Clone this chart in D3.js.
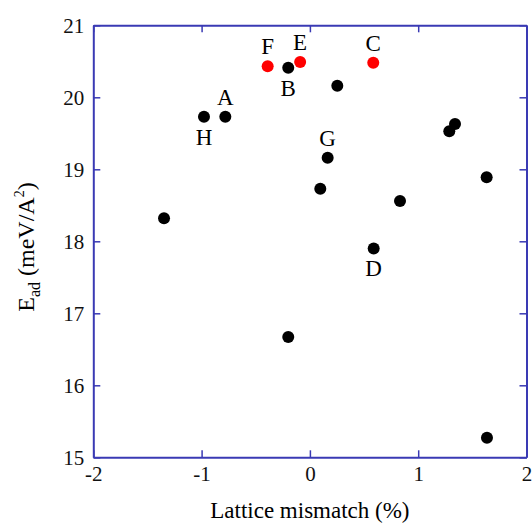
<!DOCTYPE html>
<html>
<head>
<meta charset="utf-8">
<script src="https://cdn.jsdelivr.net/npm/d3@7"></script>
<style>
  body { margin: 0; background: #fff; }
  svg text { font-family: "Liberation Serif", "DejaVu Serif", serif !important; }
</style>
</head>
<body>
<div id="chart"></div>
<script>
// lattice mismatch (%) and adsorption energy (meV/A^2)
const blackX = [-0.20, 0.253, -0.978, -0.781, 1.34, 1.287, 0.164, 0.096, 0.832, 1.632, 0.589, -1.347, -0.20, 1.635];
const blackY = [20.41, 20.16, 19.73, 19.73, 19.63, 19.53, 19.16, 18.73, 18.56, 18.89, 17.90, 18.32, 16.67, 15.27];
const redX = [-0.39, -0.09, 0.585];
const redY = [20.43, 20.49, 20.48];

// labelled points
const labelNames = ["F", "E", "C", "B", "A", "H", "G", "D"];
const labelX = [-0.39, -0.09, 0.585, -0.20, -0.781, -0.978, 0.164, 0.589];
const labelY = [20.43, 20.49, 20.48, 20.41, 19.73, 19.73, 19.16, 17.90];
const labelSide = ["above", "above", "above", "below", "above", "below", "above", "below"];

const xTicks = [-2, -1, 0, 1, 2];
const yTicks = [15, 16, 17, 18, 19, 20, 21];

const W = 532, H = 523;
const margin = { top: 25.3, right: 5.5, bottom: 65.7, left: 93.3 };
const width = W - margin.left - margin.right;
const height = H - margin.top - margin.bottom;
const axisColor = "#3a3ab4";

const svg = d3.select("#chart").append("svg")
    .attr("width", W)
    .attr("height", H);

const g = svg.append("g").attr("transform", `translate(${margin.left},${margin.top})`);

const x = d3.scaleLinear().domain([-2, 2]).range([0, width]);
const y = d3.scaleLinear().domain([15, 21]).range([height, 0]);

function styleAxis(sel) {
    sel.select(".domain").attr("stroke", axisColor).attr("stroke-width", 2);
    sel.selectAll(".tick line").attr("stroke", axisColor).attr("stroke-width", 1.5);
    sel.selectAll(".tick text").attr("fill", "#111").attr("font-size", 21);
}

g.append("g")
    .attr("transform", `translate(0,${height})`)
    .call(d3.axisBottom(x).tickValues(xTicks).tickFormat(d => String(d)).tickSizeInner(-7).tickSizeOuter(0).tickPadding(9))
    .call(styleAxis);

g.append("g")
    .call(d3.axisTop(x).tickValues(xTicks).tickFormat("").tickSizeInner(-7).tickSizeOuter(0))
    .call(styleAxis);

g.append("g")
    .call(d3.axisLeft(y).tickValues(yTicks).tickFormat(d => String(d)).tickSizeInner(-7).tickSizeOuter(0).tickPadding(9))
    .call(styleAxis);

g.append("g")
    .attr("transform", `translate(${width},0)`)
    .call(d3.axisRight(y).tickValues(yTicks).tickFormat("").tickSizeInner(-7).tickSizeOuter(0))
    .call(styleAxis);

// points
g.selectAll("circle.black")
    .data(d3.zip(blackX, blackY))
    .enter().append("circle")
    .attr("class", "black")
    .attr("cx", d => x(d[0]))
    .attr("cy", d => y(d[1]))
    .attr("r", 6)
    .attr("fill", "#000");

g.selectAll("circle.red")
    .data(d3.zip(redX, redY))
    .enter().append("circle")
    .attr("class", "red")
    .attr("cx", d => x(d[0]))
    .attr("cy", d => y(d[1]))
    .attr("r", 6)
    .attr("fill", "#f00");

// point labels
g.selectAll("text.lbl")
    .data(labelNames.map((n, i) => ({ n, x: labelX[i], y: labelY[i], side: labelSide[i] })))
    .enter().append("text")
    .attr("class", "lbl")
    .attr("x", d => x(d.x))
    .attr("y", d => y(d.y) + (d.side === "above" ? -12 : 28))
    .attr("text-anchor", "middle")
    .attr("font-size", 23)
    .attr("fill", "#000")
    .text(d => d.n);

// axis titles
svg.append("text")
    .attr("x", margin.left + width / 2)
    .attr("y", 518)
    .attr("text-anchor", "middle")
    .attr("font-size", 23)
    .text("Lattice mismatch (%)");

const yl = svg.append("text")
    .attr("transform", `translate(34,247) rotate(-90)`)
    .attr("text-anchor", "middle")
    .attr("font-size", 24);
yl.append("tspan").text("E");
yl.append("tspan").attr("font-size", 16).attr("dy", 6).text("ad");
yl.append("tspan").attr("dy", -6).text(" (meV/A");
yl.append("tspan").attr("font-size", 14).attr("dy", -10).text("2");
yl.append("tspan").attr("dy", 10).text(")");
</script>
</body>
</html>
